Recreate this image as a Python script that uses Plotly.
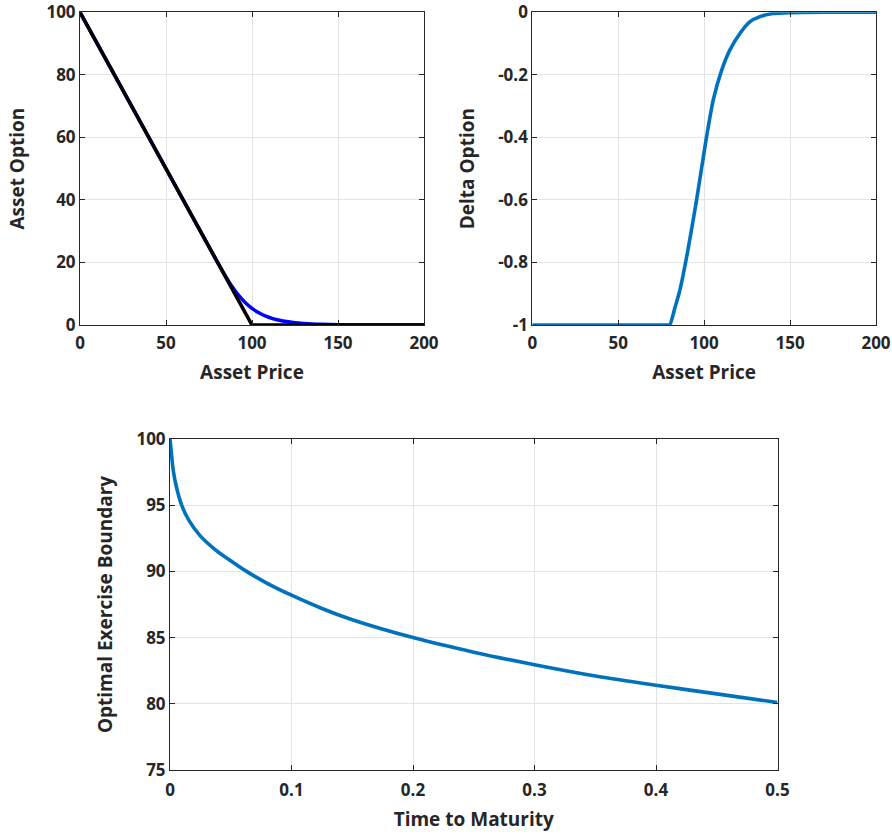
import plotly.graph_objects as go

# ---------------- data ----------------
# Top-left: option value vs asset price
payoff_S = [0, 100, 200]
payoff_V = [100, 0, 0]

value_S = [0, 40, 80, 84, 88, 92, 96, 100, 104, 108, 112, 116, 120, 125, 130, 135, 140, 150, 160, 200]
value_V = [100, 60, 20, 16.15, 12.6, 9.6, 7.2, 5.3, 3.9, 2.8, 2.05, 1.5, 1.1, 0.75, 0.5, 0.32, 0.2, 0.07, 0.02, 0]

# Top-right: delta vs asset price
delta_S = [0, 40, 79, 80, 83, 85.9, 90.2, 95.6, 101.1, 105.3, 110.2, 115, 120.9, 126.7, 132.5, 140, 150, 170, 200]
delta_D = [-1, -1, -1, -1, -0.945, -0.888, -0.771, -0.60, -0.408, -0.28, -0.185, -0.12, -0.067, -0.030, -0.014, -0.004, -0.001, 0, 0]

# Bottom: optimal exercise boundary vs time to maturity
bound_T = [0, 0.0014, 0.0027, 0.0055, 0.0096, 0.0156, 0.0247, 0.0384, 0.05, 0.063, 0.08, 0.1, 0.125, 0.15, 0.2, 0.25, 0.3, 0.35, 0.4, 0.45, 0.5]
bound_B = [100, 98.7, 97.6, 96.3, 95.0, 93.85, 92.7, 91.55, 90.8, 90.0, 89.1, 88.2, 87.2, 86.35, 85.0, 83.9, 82.95, 82.1, 81.4, 80.75, 80.1]

# tick labels
tl_x_price = [0, 50, 100, 150, 200]
tl_x_price_txt = ["0", "50", "100", "150", "200"]
tl_y_value = [0, 20, 40, 60, 80, 100]
tl_y_value_txt = ["0", "20", "40", "60", "80", "100"]
tl_y_delta = [-1, -0.8, -0.6, -0.4, -0.2, 0]
tl_y_delta_txt = ["-1", "-0.8", "-0.6", "-0.4", "-0.2", "0"]
tl_x_time = [0, 0.1, 0.2, 0.3, 0.4, 0.5]
tl_x_time_txt = ["0", "0.1", "0.2", "0.3", "0.4", "0.5"]
tl_y_bound = [75, 80, 85, 90, 95, 100]
tl_y_bound_txt = ["75", "80", "85", "90", "95", "100"]

# ---------------- figure ----------------
W, H = 892, 834
TXT = "#262626"
GRID = "#e3e3e3"
MBLUE = "#0072BD"
FONT = dict(family="Open Sans", size=17, color=TXT, weight=700)
TFONT = dict(family="Open Sans", size=19, color=TXT, weight=700)

fig = go.Figure()

fig.add_trace(go.Scatter(x=value_S, y=value_V, mode="lines", xaxis="x", yaxis="y",
                         line=dict(color="#0000FF", width=3.5, shape="spline", smoothing=0.6),
                         showlegend=False, hoverinfo="skip"))
fig.add_trace(go.Scatter(x=payoff_S, y=payoff_V, mode="lines", xaxis="x", yaxis="y",
                         line=dict(color="#000000", width=3.6),
                         showlegend=False, hoverinfo="skip"))
fig.add_trace(go.Scatter(x=delta_S, y=delta_D, mode="lines", xaxis="x2", yaxis="y2",
                         line=dict(color=MBLUE, width=3.6, shape="spline", smoothing=0.6),
                         showlegend=False, hoverinfo="skip"))
fig.add_trace(go.Scatter(x=bound_T, y=bound_B, mode="lines", xaxis="x3", yaxis="y3",
                         line=dict(color=MBLUE, width=3.6, shape="spline", smoothing=0.8),
                         showlegend=False, hoverinfo="skip"))


def ax(domain, rng, tv, tt, title, anchor, standoff, tls):
    return dict(domain=domain, range=rng, tickvals=tv, ticktext=tt,
                title=dict(text=title, font=TFONT, standoff=standoff),
                tickfont=FONT, showline=True, linecolor=TXT, linewidth=1,
                mirror="allticks", ticks="inside", ticklen=5, tickcolor=TXT,
                ticklabelstandoff=tls,
                showgrid=True, gridcolor=GRID, gridwidth=1, zeroline=False,
                anchor=anchor, fixedrange=True, automargin=False)


top_y = [1 - 325 / H, 1 - 12.3 / H]
bot_y = [1 - 770 / H, 1 - 439 / H]

fig.update_layout(
    width=W, height=H,
    margin=dict(l=0, r=0, t=0, b=0),
    paper_bgcolor="white", plot_bgcolor="white",
    xaxis=ax([80 / W, 424 / W], [0, 200], tl_x_price, tl_x_price_txt, "Asset Price", "y", 12, 3),
    yaxis=ax(top_y, [0, 100], tl_y_value, tl_y_value_txt, "Asset Option", "x", 16, 0),
    xaxis2=ax([532.3 / W, 876 / W], [0, 200], tl_x_price, tl_x_price_txt, "Asset Price", "y2", 12, 3),
    yaxis2=ax(top_y, [-1, 0], tl_y_delta, tl_y_delta_txt, "Delta Option", "x2", 18, 0),
    xaxis3=ax([170 / W, 777.5 / W], [0, 0.5], tl_x_time, tl_x_time_txt, "Time to Maturity", "y3", 12, 5),
    yaxis3=ax(bot_y, [75, 100], tl_y_bound, tl_y_bound_txt, "Optimal Exercise Boundary", "x3", 18, 0),
)

fig.write_html("out.html", post_script="document.body.style.margin='0';",
               config={"displayModeBar": False})
